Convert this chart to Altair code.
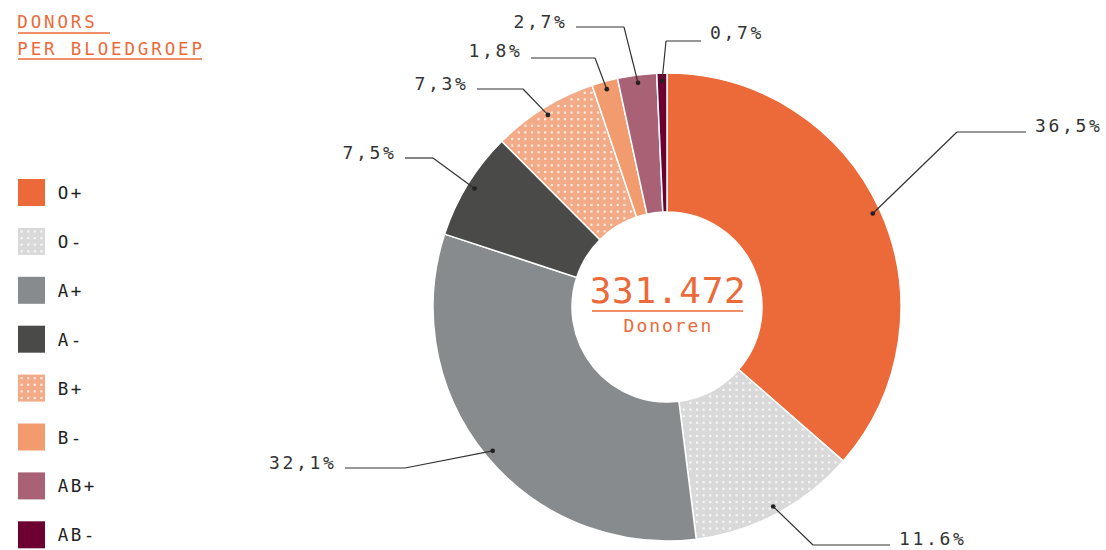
import math
import altair as alt
import pandas as pd

# ---------------- data ----------------
groups = ["O+", "O-", "A+", "A-", "B+", "B-", "AB+", "AB-"]
shares = [36.5, 11.6, 32.1, 7.5, 7.3, 1.8, 2.7, 0.7]
pct_labels = ["36,5%", "11.6%", "32,1%", "7,5%", "7,3%", "1,8%", "2,7%", "0,7%"]
colors = ["#ec6a3a", "#d9d9d9", "#878b8d", "#4a4a48", "#f3aa87", "#f29b6f", "#a96275", "#6c0030"]
patterned = ["O-", "B+"]
total_donors = "331.472"
center_caption = "Donoren"
title_lines = ["DONORS ", "PER BLOEDGROEP"]

# ---------------- layout ----------------
W, H = 1106, 550
CX, CY = 667, 307
R_OUT, R_IN, R_DOT = 234, 95, 226
ORANGE = "#ec6a3a"
FONT = "DejaVu Sans Mono"
# leader-line elbows and line ends (annotation layout)
elbows = [(957, 132), (813, 545), (405, 468), (433, 158), (523, 89), (595, 58), (624, 27), (666, 41)]
line_ends = [1026, 890, 345, 405, 477, 531, 576, 701]
label_base = [132, 545, 469, 159, 90, 57, 28, 39]
GRID = 6.6  # texture pitch


def spaced(text, x, y, pitch, ink, anchor):
    n = len(text)
    span = pitch * (n - 1) + ink
    start = x if anchor == "left" else x - span
    return [dict(ch=c, x=start + ink / 2 + pitch * i, y=y) for i, c in enumerate(text)]


total = sum(shares)
df = pd.DataFrame({"group": groups, "share": shares, "idx": list(range(len(groups)))})

# dots / leader lines computed from the slice mid angles
dots, segs, lab_chars, texture = [], [], [], []
cum = 0.0
for i, s in enumerate(shares):
    a0 = cum / total * 2 * math.pi
    a1 = (cum + s) / total * 2 * math.pi
    mid = (a0 + a1) / 2
    cum += s
    dx = CX + R_DOT * math.sin(mid)
    dy = CY - R_DOT * math.cos(mid)
    ex, ey = elbows[i]
    lx = line_ends[i]
    dots.append(dict(x=dx, y=dy))
    segs.append(dict(x=dx, y=dy, x2=ex, y2=ey))
    segs.append(dict(x=ex, y=ey, x2=lx, y2=ey))
    if lx > ex:
        lab_chars += spaced(pct_labels[i], lx + 10, label_base[i], 13.5, 9, "left")
    else:
        lab_chars += spaced(pct_labels[i], lx - 12, label_base[i], 13.5, 9, "right")
    if groups[i] in patterned:
        n = int(2 * R_OUT / GRID) + 2
        for gy in range(n):
            for gx in range(n):
                px = CX - R_OUT + gx * GRID
                py = CY - R_OUT + gy * GRID
                r = math.hypot(px - CX, py - CY)
                if r < R_IN + 3 or r > R_OUT - 3:
                    continue
                ang = math.atan2(px - CX, -(py - CY)) % (2 * math.pi)
                margin = 2.5 / r
                if a0 + margin < ang < a1 - margin:
                    texture.append(dict(x=px, y=py))

title_chars = spaced(title_lines[0], 18, 28, 13.4, 9, "left") + spaced(title_lines[1], 18, 55, 13.4, 9, "left")
underlines = pd.DataFrame([
    dict(x=18, x2=110, y=33, y2=33),
    dict(x=18, x2=202, y=59, y2=59),
    dict(x=592, x2=743, y=311, y2=311),
])
num_chars = spaced(total_donors, 592, 303, 22.4, 17, "left")
cap_chars = spaced(center_caption, 624, 332, 12.8, 10, "left")

leg_rows = []
leg_chars = []
for i, g in enumerate(groups):
    yc = 192.5 + 48.9 * i
    leg_rows.append(dict(group=g, x=31.5, y=yc))
    leg_chars += spaced(g, 58, yc + 6.5, 13, 10, "left")
    if g in patterned:
        for gy in range(4):
            for gx in range(4):
                texture.append(dict(x=31.5 - 9.9 + gx * GRID, y=yc - 9.9 + gy * GRID))

X = lambda f="x": alt.X(f + ":Q", scale=alt.Scale(domain=[0, W], nice=False, zero=False), axis=None)
Y = lambda f="y": alt.Y(f + ":Q", scale=alt.Scale(domain=[0, H], reverse=True, nice=False, zero=False), axis=None)
color_scale = alt.Scale(domain=groups, range=colors)

arcs = alt.Chart(df).mark_arc(innerRadius=R_IN, outerRadius=R_OUT, stroke="white", strokeWidth=1.5).encode(
    theta=alt.Theta("share:Q", stack=True),
    color=alt.Color("group:N", scale=color_scale, legend=None),
    order=alt.Order("idx:Q"),
    x=alt.value(CX),
    y=alt.value(CY),
)

tex_layer = alt.Chart(pd.DataFrame(texture)).mark_square(size=5, color="white", opacity=0.75).encode(x=X(), y=Y())

leaders = alt.Chart(pd.DataFrame(segs)).mark_rule(color="#333333", strokeWidth=1.2).encode(
    x=X(), y=Y(), x2="x2:Q", y2="y2:Q")
dot_layer = alt.Chart(pd.DataFrame(dots)).mark_circle(color="#222222", size=22, opacity=1).encode(x=X(), y=Y())


def text_layer(rows, size, color):
    return alt.Chart(pd.DataFrame(rows)).mark_text(
        font=FONT, fontSize=size, color=color, align="center", baseline="alphabetic"
    ).encode(x=X(), y=Y(), text="ch:N")


labels_layer = text_layer(lab_chars, 18, "#333333")
title_layer = text_layer(title_chars, 17.5, ORANGE)
num_layer = text_layer(num_chars, 36, ORANGE)
cap_layer = text_layer(cap_chars, 18, ORANGE)
leg_text = text_layer(leg_chars, 17.5, "#222222")

ul = alt.Chart(underlines).mark_rule(color=ORANGE, strokeWidth=1.5).encode(x=X(), y=Y(), x2="x2:Q", y2="y2:Q")

leg_sq = alt.Chart(pd.DataFrame(leg_rows)).mark_square(size=729, opacity=1).encode(
    x=X(), y=Y(), color=alt.Color("group:N", scale=color_scale, legend=None))

chart = alt.layer(
    arcs, leg_sq, tex_layer, leaders, dot_layer, labels_layer, title_layer, ul, num_layer, cap_layer, leg_text
).properties(
    width=W, height=H, autosize=alt.AutoSizeParams(type="none"), padding=0
).configure_view(stroke=None)

chart.save("out.html", embed_options={"renderer": "svg", "actions": False})
